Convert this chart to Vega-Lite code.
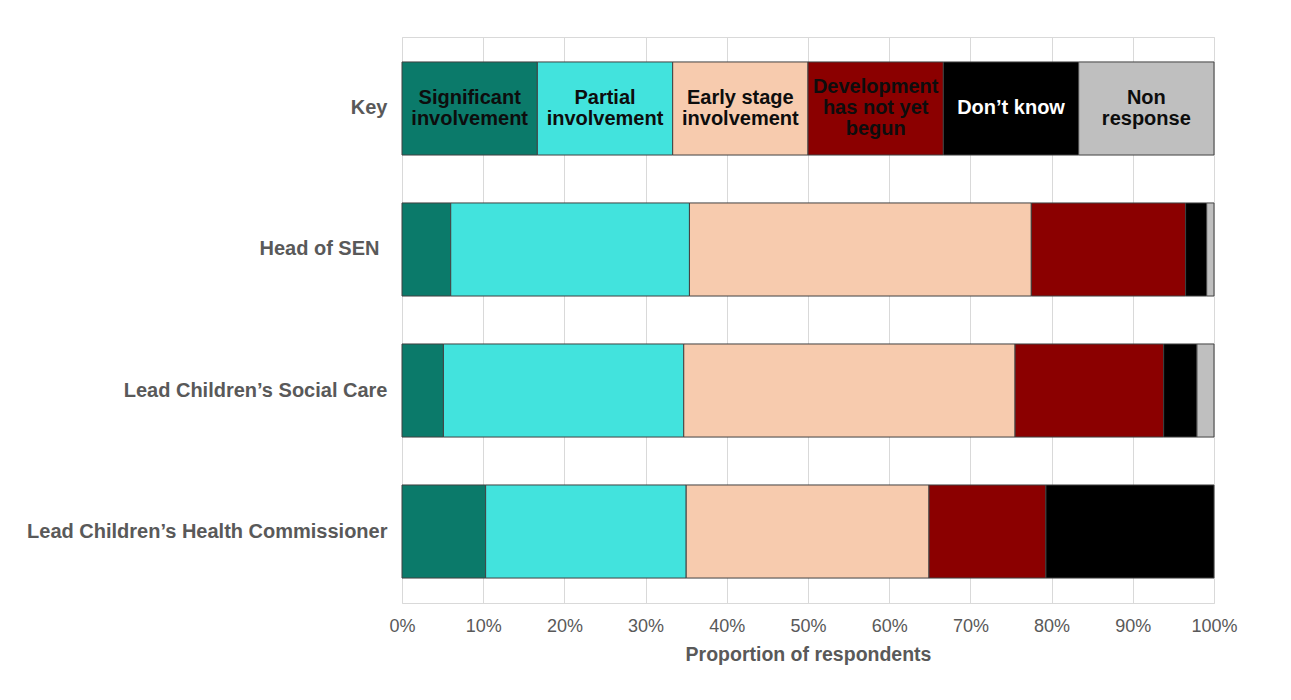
{
  "$schema": "https://vega.github.io/schema/vega-lite/v6.json",
  "autosize": "none",
  "width": 812,
  "height": 566,
  "padding": {"left": 402, "top": 37, "right": 77, "bottom": 97},
  "background": "#ffffff",
  "config": {
    "font": "Liberation Sans",
    "view": {"stroke": "#d9d9d9", "strokeWidth": 1},
    "axis": {"labelFont": "Liberation Sans", "titleFont": "Liberation Sans"}
  },
  "data": {
    "values": [
      {"role": "Key", "cat": "Significant involvement", "value": 16.667, "label": "Significant\ninvolvement"},
      {"role": "Key", "cat": "Partial involvement", "value": 16.667, "label": "Partial\ninvolvement"},
      {"role": "Key", "cat": "Early stage involvement", "value": 16.667, "label": "Early stage\ninvolvement"},
      {"role": "Key", "cat": "Development has not yet begun", "value": 16.667, "label": "Development\nhas not yet\nbegun"},
      {"role": "Key", "cat": "Don’t know", "value": 16.667, "label": "Don’t know"},
      {"role": "Key", "cat": "Non response", "value": 16.665, "label": "Non\nresponse"},
      {"role": "Head of SEN", "cat": "Significant involvement", "value": 6.0},
      {"role": "Head of SEN", "cat": "Partial involvement", "value": 29.4},
      {"role": "Head of SEN", "cat": "Early stage involvement", "value": 42.1},
      {"role": "Head of SEN", "cat": "Development has not yet begun", "value": 19.0},
      {"role": "Head of SEN", "cat": "Don’t know", "value": 2.6},
      {"role": "Head of SEN", "cat": "Non response", "value": 0.9},
      {"role": "Lead Children’s Social Care", "cat": "Significant involvement", "value": 5.1},
      {"role": "Lead Children’s Social Care", "cat": "Partial involvement", "value": 29.6},
      {"role": "Lead Children’s Social Care", "cat": "Early stage involvement", "value": 40.8},
      {"role": "Lead Children’s Social Care", "cat": "Development has not yet begun", "value": 18.3},
      {"role": "Lead Children’s Social Care", "cat": "Don’t know", "value": 4.1},
      {"role": "Lead Children’s Social Care", "cat": "Non response", "value": 2.1},
      {"role": "Lead Children’s Health Commissioner", "cat": "Significant involvement", "value": 10.3},
      {"role": "Lead Children’s Health Commissioner", "cat": "Partial involvement", "value": 24.7},
      {"role": "Lead Children’s Health Commissioner", "cat": "Early stage involvement", "value": 29.9},
      {"role": "Lead Children’s Health Commissioner", "cat": "Development has not yet begun", "value": 14.4},
      {"role": "Lead Children’s Health Commissioner", "cat": "Don’t know", "value": 20.7}
    ]
  },
  "transform": [
    {"calculate": "indexof(['Significant involvement','Partial involvement','Early stage involvement','Development has not yet begun','Don’t know','Non response'], datum.cat)", "as": "ord"},
    {"stack": "value", "groupby": ["role"], "sort": [{"field": "ord", "order": "ascending"}], "as": ["x0", "x1"]}
  ],
  "encoding": {
    "y": {
      "field": "role",
      "type": "nominal",
      "sort": ["Key", "Head of SEN", "Lead Children’s Social Care", "Lead Children’s Health Commissioner"],
      "scale": {"paddingInner": 0.34, "paddingOuter": 0.177},
      "axis": {
        "title": null,
        "ticks": false,
        "domain": false,
        "labelFontSize": 20,
        "labelFontWeight": "bold",
        "labelColor": "#595959",
        "labelPadding": {"condition": {"test": "datum.label == 'Head of SEN'", "value": 23}, "value": 15},
        "labelLimit": 500
      }
    }
  },
  "layer": [
    {
      "mark": {"type": "bar", "stroke": "#404040", "strokeWidth": 1},
      "encoding": {
        "x": {
          "field": "x0",
          "type": "quantitative",
          "scale": {"domain": [0, 100], "nice": false},
          "axis": {
            "title": "Proportion of respondents",
            "titleFontSize": 19.5,
            "titleFontWeight": "bold",
            "titleColor": "#595959",
            "titlePadding": 10,
            "values": [0, 10, 20, 30, 40, 50, 60, 70, 80, 90, 100],
            "labelExpr": "datum.value + '%'",
            "labelFontSize": 18,
            "labelColor": "#595959",
            "labelPadding": 14,
            "labelFlush": false,
            "ticks": false,
            "domain": false,
            "grid": true,
            "gridColor": "#d9d9d9",
            "gridWidth": 1
          }
        },
        "x2": {"field": "x1"},
        "color": {
          "field": "cat",
          "type": "nominal",
          "legend": null,
          "scale": {
            "domain": ["Significant involvement", "Partial involvement", "Early stage involvement", "Development has not yet begun", "Don’t know", "Non response"],
            "range": ["#0b7a6a", "#42e3dd", "#f7cbae", "#8b0000", "#000000", "#bfbfbf"]
          }
        }
      }
    },
    {
      "transform": [
        {"filter": "datum.role == 'Key' && datum.cat == 'Don’t know'"},
        {"calculate": "(datum.x0 + datum.x1) / 2", "as": "mid"}
      ],
      "mark": {"type": "text", "fontSize": 20, "fontWeight": "bold", "lineBreak": "\n", "lineHeight": 21, "align": "center", "baseline": "middle"},
      "encoding": {
        "x": {"field": "mid", "type": "quantitative"},
        "text": {"field": "label", "type": "nominal"},
        "color": {"value": "#ffffff"}
      }
    },
    {
      "transform": [
        {"filter": "datum.role == 'Key' && datum.cat != 'Don’t know' && datum.cat != 'Development has not yet begun'"},
        {"calculate": "(datum.x0 + datum.x1) / 2", "as": "mid"}
      ],
      "mark": {"type": "text", "fontSize": 20, "fontWeight": "bold", "lineBreak": "\n", "lineHeight": 21, "align": "center", "baseline": "middle", "dy": -10.5},
      "encoding": {
        "x": {"field": "mid", "type": "quantitative"},
        "text": {"field": "label", "type": "nominal"},
        "color": {"value": "#0d0d0d"}
      }
    },
    {
      "transform": [
        {"filter": "datum.role == 'Key' && datum.cat == 'Development has not yet begun'"},
        {"calculate": "(datum.x0 + datum.x1) / 2", "as": "mid"}
      ],
      "mark": {"type": "text", "fontSize": 20, "fontWeight": "bold", "lineBreak": "\n", "lineHeight": 21, "align": "center", "baseline": "middle", "dy": -21},
      "encoding": {
        "x": {"field": "mid", "type": "quantitative"},
        "text": {"field": "label", "type": "nominal"},
        "color": {"value": "#0d0d0d"}
      }
    }
  ]
}
